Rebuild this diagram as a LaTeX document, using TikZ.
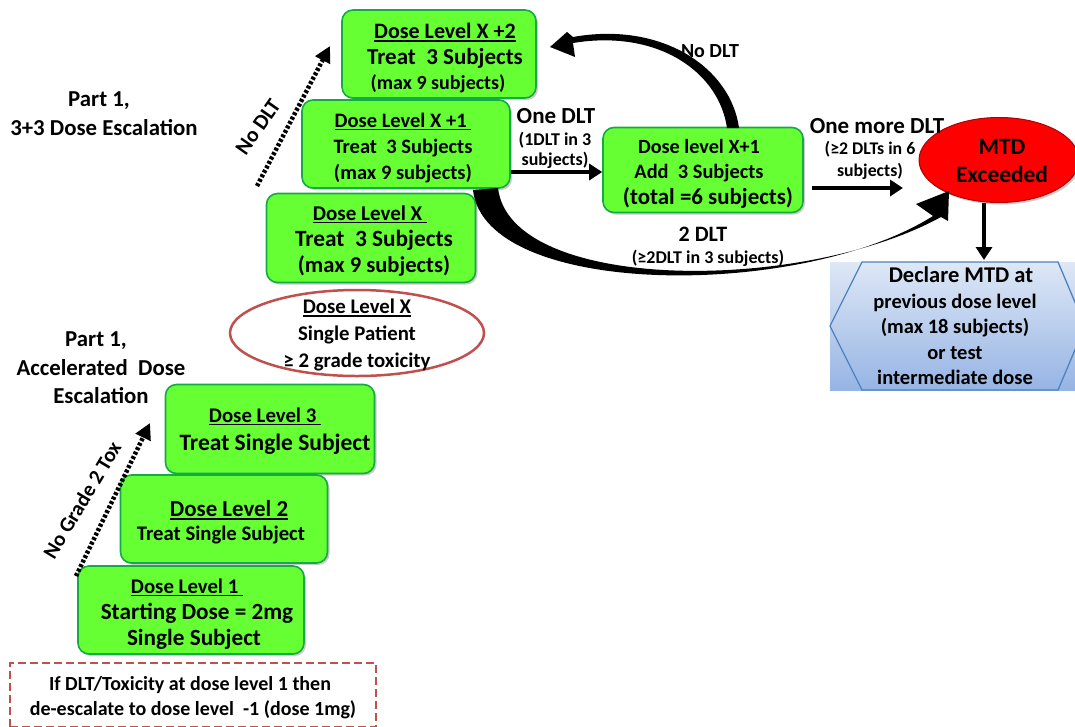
\documentclass[tikz,border=0pt]{standalone}
\usepackage{fontspec}
\setmainfont{Carlito}[BoldFont={Carlito Bold}]
\usetikzlibrary{arrows.meta,shadows,calc,shapes.geometric}
\definecolor{gfill}{RGB}{102,255,51}
\definecolor{gline}{RGB}{20,170,70}
\definecolor{rline}{RGB}{192,80,77}
\definecolor{hline}{RGB}{79,129,189}
\definecolor{hlight}{RGB}{222,232,246}
\definecolor{hdark}{RGB}{150,180,228}
\newcommand\fz[1]{\fontsize{#1}{25}\selectfont}
\newcommand\ulx[1]{\setbox0\hbox{#1}\rlap{\rule[-3pt]{\wd0}{1.8pt}}\box0}
\newcommand\sh[1]{\hspace*{#1pt}}
\tikzset{
  every node/.style={align=center, inner sep=0pt},
  bs/.style={font=\bfseries\fontsize{20}{#1}\selectfont},
  bs/.default=25,
  gbox/.style={draw=gline, line width=1.6pt, fill=gfill, rounded corners=11pt,
    drop shadow={shadow xshift=2pt, shadow yshift=-2pt, fill=black!40, opacity=0.5}},
  thickarrow/.style={line width=4pt, -{Triangle[length=13pt,width=16pt]}},
  dotarrow/.style={line width=4.5pt, dash pattern=on 3pt off 2pt, -{Triangle[length=16pt,width=16pt]}},
}
\begin{document}
\begin{tikzpicture}[x=1pt,y=-1pt]
\useasboundingbox (0,0) rectangle (1075,726);

% left labels
\node[bs=29] (p1a) at (104,114) {\sh{-10}\fz{22.8}Part 1,\\\fz{22.8}3+3 Dose Escalation};
\node[bs=28.5] (p1b) at (101,368) {\sh{-10}\fz{22.8}Part 1,\\\fz{22.8}Accelerated~ Dose\\\fz{22.8}Escalation};

% boxes
\node[gbox, minimum width=194pt, minimum height=88pt] (x2) at (439,54) {};
\node[bs=25.5] (x2t) at ($(x2.center)+(6,4)$)
  {\fz{22}\ulx{Dose Level X +2}\\\fz{23}Treat~~3 Subjects\\\sh{-14}\fz{20}(max 9 subjects)};
\node[gbox, minimum width=208pt, minimum height=88pt] (x1) at (406,144) {};
\node[bs=26] (x1t) at ($(x1.center)+(-3,4)$)
  {\fz{20.5}\ulx{Dose Level X +1~}\\\fz{20.5}Treat~~3 Subjects\\\fz{20.5}(max 9 subjects)};
\node[gbox, minimum width=209pt, minimum height=89pt] (x0) at (371,238) {};
\node[bs=26] (x0t) at ($(x0.center)+(3,3)$)
  {\sh{-8}\fz{21}\ulx{Dose Level X~}\\\fz{23.3}Treat~~3 Subjects\\\fz{22.6}(max 9 subjects)};
\node[draw=rline, line width=2.5pt, fill=white, ellipse, minimum width=254pt, minimum height=86pt] (ell) at (357,333) {};
\node[bs=27] (ellt) at ($(ell.center)+(0,2)$)
  {\fz{20.8}\ulx{Dose Level X}\\\fz{20.8}Single Patient\\\fz{20.8}≥ 2 grade toxicity};
\node[gbox, minimum width=209pt, minimum height=89pt] (d3) at (270,429) {};
\node[bs=28] (d3t) at ($(d3.center)+(5,2)$)
  {\sh{-20}\fz{20.8}\ulx{Dose Level 3~}\\\fz{23.5}Treat Single Subject};
\node[gbox, minimum width=207pt, minimum height=88pt] (d2) at (224,519) {};
\node[bs=24] (d2t) at ($(d2.center)+(-3,3.5)$)
  {\sh{16}\fz{22.9}\ulx{Dose Level 2}\\\fz{20.7}Treat Single Subject};
\node[gbox, minimum width=226pt, minimum height=88pt] (d1) at (191,610) {};
\node[bs=26] (d1t) at ($(d1.center)+(6,4)$)
  {\sh{-20}\fz{20.8}\ulx{Dose Level 1~}\\\fz{23.2}Starting Dose = 2mg\\\sh{-6}\fz{23.2}Single Subject};
\node[draw=rline, line width=2.5pt, dash pattern=on 8pt off 4pt, minimum width=366pt, minimum height=64pt] (deesc) at (193,695) {};
\node[bs=25] (deesct) at ($(deesc.center)+(0,3)$)
  {\sh{-6}\fz{20}If DLT/Toxicity at dose level 1 then\\\fz{20}de-escalate to dose level~ -1 (dose 1mg)};

\node[gbox, minimum width=200pt, minimum height=85pt] (xr) at (703,170) {};
\node[bs=25.5] (xrt) at ($(xr.center)+(2,3.5)$)
  {\sh{-12}\fz{20.2}Dose level X+1\\\sh{-12}\fz{20.4}Add~ 3 Subjects\\\sh{6}\fz{22.9}(total =6 subjects)};
\node[draw=red!70!black, line width=1pt, fill=red, ellipse, minimum width=160pt, minimum height=85pt,
  drop shadow={shadow xshift=2pt, shadow yshift=-2pt, fill=black!40, opacity=0.5}] (mtd) at (999,160) {};
\node[bs=28] (mtdt) at (1002,161) {\fz{23.4}MTD\\\fz{23.4}Exceeded};

% hexagon
\shade[top color=hlight, bottom color=hdark] (830,262) rectangle (1075,390);
\draw[hline, line width=1.3pt] (862,262) -- (1058,262) -- (1085,326) -- (1058,390) -- (862,390) -- (830,326) -- cycle;
\node[bs=25.5] (decl) at (955,326) {\sh{12}\fz{22.5}Declare MTD at\\\fz{20.5}previous dose level\\\fz{20.5}(max 18 subjects)\\\fz{20.5}or test\\\fz{20.5}intermediate dose};

% dotted escalation arrows
\coordinate (ndA) at (257,186);
\coordinate (ndB) at (330,46);
\draw[dotarrow] (ndA) -- (ndB);
\node[bs, rotate=55] (ndl) at (258,127) {\fz{21.5}No DLT};
\coordinate (ngA) at (76,576);
\coordinate (ngB) at (150,423);
\draw[dotarrow] (ngA) -- (ngB);
\node[bs, rotate=59] (ngl) at (82,500) {\fz{21}No Grade 2 Tox};

% one DLT
\draw[thickarrow] (x1.east |- 0,172) -- (xr.west |- 0,172);
\node[bs] (one) at (556,116) {\fz{23}One DLT};
\node[bs=20] (onec) at (555,150) {\fz{18}(1DLT in 3\\\fz{18}subjects)};

% one more DLT
\draw[thickarrow] (812,188) -- (903,188);
\node[bs] (omd) at (877,126) {\fz{23}One more DLT};
\node[bs=22] (omdc) at (870,160) {\fz{17.8}(≥2 DLTs in 6\\\fz{17.8}subjects)};

% MTD down
\draw[thickarrow] (mtd.south -| 984,0) -- (984,260);

% No DLT return arc
\fill (739,128) .. controls (731,68) and (662,21) .. (573,37) -- (567,32) -- (550,47) -- (575,57)
  -- (573,43) .. controls (658,29) and (719,72) .. (727,128) -- cycle;
\node[bs] (nodlt) at (710,51) {\fz{20}No DLT};

% 2 DLT big arrow
\fill (473,190) .. controls (485,298) and (800,300) .. (933,216) -- (916,204) -- (949,191) -- (948,221) -- (941,217)
  .. controls (800,294) and (510,292) .. (498,188) -- cycle;
\node[bs] (twodlt) at (703,234) {\fz{22}2 DLT};
\node[bs] (twodltc) at (708,258) {\fz{18}(≥2DLT in 3 subjects)};
\end{tikzpicture}
\end{document}
